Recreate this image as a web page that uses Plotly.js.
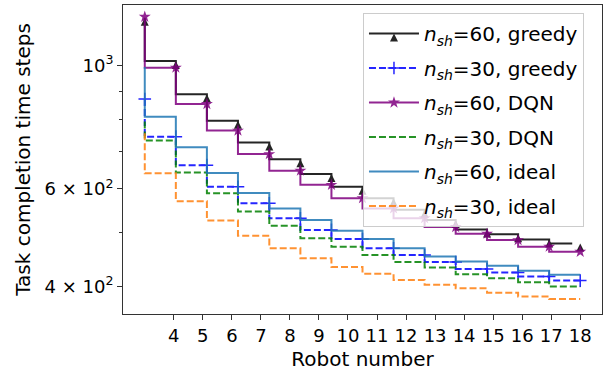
<!DOCTYPE html>
<html>
<head>
<meta charset="utf-8">
<script src="https://cdn.plot.ly/plotly-3.0.1.min.js"></script>
<style>html,body{margin:0;padding:0;background:#fff;}#chart{width:612px;height:377px;}</style>
</head>
<body>
<div id="chart"></div>
<script>
// x positions of the 15 steps (robot-number axis)
var xPos = [3, 4.07, 5.14, 6.21, 7.29, 8.36, 9.43, 10.5, 11.57, 12.64, 13.71, 14.79, 15.86, 16.93, 18];
var xTicks = [4, 5, 6, 7, 8, 9, 10, 11, 12, 13, 14, 15, 16, 17, 18];

// series values (task completion time steps)
var greedy60 = [1220, 1020, 888, 796, 727, 678, 638, 605, 577, 550, 527, 507, 497, 486, 478];
var greedy30 = [871, 745, 662, 605, 565, 531, 506, 487, 469, 456, 443, 430, 424, 417, 410];
var dqn60    = [1225, 992, 853, 764, 693, 647, 610, 577, 553, 531, 512, 498, 485, 472, 462];
var dqn30    = [793, 733, 642, 589, 546, 515, 489, 472, 456, 443, 433, 421, 414, 407, 400];
var ideal60  = [995, 809, 713, 641, 590, 553, 527, 504, 487, 469, 453, 444, 436, 427, 420];
var ideal30  = [756, 640, 570, 526, 494, 469, 450, 434, 422, 411, 403, 397, 390, 384, 380];

var seriesNames = [
  '<i>n</i><sub><i>sh</i></sub>=60, greedy',
  '<i>n</i><sub><i>sh</i></sub>=30, greedy',
  '<i>n</i><sub><i>sh</i></sub>=60, DQN',
  '<i>n</i><sub><i>sh</i></sub>=30, DQN',
  '<i>n</i><sub><i>sh</i></sub>=60, ideal',
  '<i>n</i><sub><i>sh</i></sub>=30, ideal'
];

var yTickVals = [400, 600, 1000];
var yTickText = ['4 × 10<sup>2</sup>', '6 × 10<sup>2</sup>', '10<sup>3</sup>'];
var yMinorVals = [500, 700, 800, 900];
var yGridVals = [1000];

function stepTrace(y, name, color, dash, marker, grp) {
  var t = {
    x: xPos, y: y, name: name, type: 'scatter',
    mode: marker ? 'lines+markers' : 'lines',
    line: {shape: 'vh', color: color, width: 2, dash: dash},
    opacity: 0.85,
    legendgroup: grp
  };
  if (marker) t.marker = marker;
  return t;
}

var data = [
  stepTrace(greedy60, seriesNames[0], '#000000', 'solid', {symbol: 'arrow-up', size: 8, color: '#000000'}, 'g1'),
  stepTrace(greedy30, seriesNames[1], '#0000ff', '7px,3px', {symbol: 'cross-thin-open', size: 9, color: '#0000ff', line: {width: 1.5, color: '#0000ff'}}, 'g2'),
  stepTrace(dqn60, seriesNames[2], '#800080', 'solid', {symbol: 'star', size: 9, color: '#800080'}, 'g3'),
  stepTrace(dqn30, seriesNames[3], '#008000', '7px,3px', null, 'g4'),
  stepTrace(ideal60, seriesNames[4], '#1f77b4', 'solid', null, 'g5'),
  stepTrace(ideal30, seriesNames[5], '#ff7f0e', '7px,3px', null, 'g6')
];

var yRange = [2.5526, 3.1094];

var layout = {
  width: 612, height: 377,
  margin: {l: 123, r: 10, t: 5, b: 63},
  paper_bgcolor: '#ffffff', plot_bgcolor: '#ffffff',
  font: {family: 'DejaVu Sans', size: 18, color: '#000000'},
  showlegend: true,
  xaxis: {
    range: [2.25, 18.75],
    tickmode: 'array', tickvals: xTicks, ticktext: xTicks.map(String),
    ticks: 'outside', ticklen: 5, tickwidth: 1, tickcolor: '#333',
    showgrid: false, zeroline: false,
    showline: true, mirror: true, linecolor: '#333', linewidth: 1,
    tickfont: {size: 18},
    title: {text: 'Robot number', font: {size: 20}, standoff: 7}
  },
  yaxis: {
    type: 'log', range: yRange,
    tickmode: 'array', tickvals: yTickVals, ticktext: yTickText,
    ticks: 'outside', ticklen: 5, tickwidth: 1, tickcolor: '#333',
    minor: {tickmode: 'array', tickvals: yMinorVals, ticks: 'outside', ticklen: 3, tickwidth: 1, tickcolor: '#333', showgrid: false},
    showgrid: false, zeroline: false,
    showline: true, mirror: true, linecolor: '#333', linewidth: 1,
    tickfont: {size: 18},
    title: {text: 'Task completion time steps', font: {size: 20}, standoff: 8}
  },
  yaxis2: {
    type: 'log', range: yRange, overlaying: 'y', anchor: 'x', side: 'left',
    tickmode: 'array', tickvals: yGridVals,
    showgrid: true, gridcolor: '#c4c4c4', gridwidth: 1,
    showticklabels: false, ticks: '', showline: false, zeroline: false
  },
  legend: {
    x: 0.501, y: 0.974, xanchor: 'left', yanchor: 'top',
    bgcolor: 'rgba(255,255,255,0.8)', bordercolor: '#cccccc', borderwidth: 1,
    font: {size: 20, family: 'DejaVu Sans', color: '#000'},
    tracegroupgap: 5.5, itemwidth: 50
  }
};

Plotly.newPlot('chart', data, layout, {displayModeBar: false, staticPlot: true});
</script>
</body>
</html>
